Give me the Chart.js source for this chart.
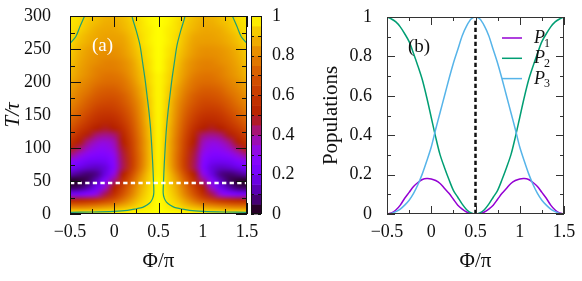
<!DOCTYPE html>
<html>
<head>
<meta charset="utf-8">
<script src="https://cdn.jsdelivr.net/npm/chart.js@4.4.1/dist/chart.umd.min.js"></script>
<style>
html, body { margin: 0; padding: 0; background: #fff; }
#wrap { position: relative; width: 582px; height: 281px; }
#chartA { position: absolute; left: 0; top: 0; }
#chartB { position: absolute; left: 300px; top: 0; }
</style>
</head>
<body>
<div id="wrap">
  <canvas id="chartA" width="300" height="281"></canvas>
  <canvas id="chartB" width="282" height="281"></canvas>
</div>
<script>
// ---------- panel (a): map over phase and time ----------
const phiGrid = [-0.5,-0.4,-0.3,-0.2,-0.1,0,0.1,0.2,0.3,0.4,0.5,0.6,0.7,0.8,0.9,1,1.1,1.2,1.3,1.4,1.5];
const tGrid = [0,10,20,30,40,50,60,70,80,90,100,110,120,130,140,150,160,170,180,190,200,210,220,230,240,250,260,270,280,290,300];
// one row per tGrid entry, one value per phiGrid entry
const heatRows = [
  [1,1,1,1,1,1,1,1,1,1,1,1,1,1,1,1,1,1,1,1,1],
  [0.8,0.8,0.81,0.83,0.85,0.87,0.9,0.93,0.96,0.98,1,0.98,0.96,0.93,0.9,0.87,0.85,0.83,0.81,0.8,0.8],
  [0.55,0.55,0.57,0.6,0.65,0.7,0.78,0.86,0.93,0.97,1,0.97,0.93,0.86,0.78,0.7,0.65,0.6,0.57,0.55,0.55],
  [0.22,0.23,0.27,0.33,0.45,0.57,0.69,0.8,0.9,0.96,1,0.96,0.9,0.8,0.69,0.57,0.45,0.33,0.27,0.23,0.22],
  [0.06,0.07,0.12,0.2,0.35,0.5,0.64,0.77,0.88,0.95,1,0.95,0.88,0.77,0.64,0.5,0.35,0.2,0.12,0.07,0.06],
  [0.02,0.03,0.06,0.14,0.28,0.42,0.58,0.73,0.86,0.94,1,0.94,0.86,0.73,0.58,0.42,0.28,0.14,0.06,0.03,0.02],
  [0.12,0.09,0.07,0.09,0.18,0.33,0.5,0.67,0.82,0.93,0.99,0.93,0.82,0.67,0.5,0.33,0.18,0.09,0.07,0.09,0.12],
  [0.22,0.18,0.15,0.14,0.17,0.27,0.45,0.62,0.78,0.91,0.99,0.91,0.78,0.62,0.45,0.27,0.17,0.14,0.15,0.18,0.22],
  [0.3,0.25,0.21,0.2,0.21,0.28,0.45,0.61,0.77,0.9,0.99,0.9,0.77,0.61,0.45,0.28,0.21,0.2,0.21,0.25,0.3],
  [0.42,0.35,0.29,0.26,0.26,0.31,0.46,0.62,0.77,0.9,0.99,0.9,0.77,0.62,0.46,0.31,0.26,0.26,0.29,0.35,0.42],
  [0.52,0.44,0.36,0.31,0.3,0.35,0.48,0.63,0.78,0.9,0.99,0.9,0.78,0.63,0.48,0.35,0.3,0.31,0.36,0.44,0.52],
  [0.58,0.5,0.42,0.36,0.34,0.38,0.5,0.64,0.78,0.9,0.99,0.9,0.78,0.64,0.5,0.38,0.34,0.36,0.42,0.5,0.58],
  [0.64,0.56,0.49,0.43,0.41,0.43,0.53,0.66,0.79,0.91,0.99,0.91,0.79,0.66,0.53,0.43,0.41,0.43,0.49,0.56,0.64],
  [0.69,0.62,0.56,0.5,0.48,0.5,0.57,0.68,0.8,0.91,0.99,0.91,0.8,0.68,0.57,0.5,0.48,0.5,0.56,0.62,0.69],
  [0.73,0.67,0.61,0.56,0.54,0.55,0.61,0.7,0.81,0.92,0.99,0.92,0.81,0.7,0.61,0.55,0.54,0.56,0.61,0.67,0.73],
  [0.76,0.71,0.65,0.6,0.58,0.59,0.64,0.72,0.82,0.92,0.99,0.92,0.82,0.72,0.64,0.59,0.58,0.6,0.65,0.71,0.76],
  [0.79,0.74,0.69,0.64,0.62,0.63,0.67,0.74,0.83,0.93,0.99,0.93,0.83,0.74,0.67,0.63,0.62,0.64,0.69,0.74,0.79],
  [0.81,0.77,0.72,0.68,0.66,0.66,0.7,0.76,0.84,0.93,0.99,0.93,0.84,0.76,0.7,0.66,0.66,0.68,0.72,0.77,0.81],
  [0.83,0.79,0.75,0.71,0.69,0.69,0.72,0.78,0.86,0.94,0.99,0.94,0.86,0.78,0.72,0.69,0.69,0.71,0.75,0.79,0.83],
  [0.85,0.81,0.78,0.74,0.72,0.72,0.75,0.8,0.87,0.94,0.99,0.94,0.87,0.8,0.75,0.72,0.72,0.74,0.78,0.81,0.85],
  [0.87,0.83,0.8,0.77,0.75,0.75,0.77,0.82,0.89,0.95,0.99,0.95,0.89,0.82,0.77,0.75,0.75,0.77,0.8,0.83,0.87],
  [0.89,0.85,0.82,0.79,0.77,0.77,0.79,0.84,0.9,0.95,0.99,0.95,0.9,0.84,0.79,0.77,0.77,0.79,0.82,0.85,0.89],
  [0.9,0.86,0.83,0.8,0.79,0.79,0.81,0.85,0.91,0.96,1,0.96,0.91,0.85,0.81,0.79,0.79,0.8,0.83,0.86,0.9],
  [0.91,0.87,0.84,0.82,0.8,0.8,0.82,0.86,0.92,0.96,1,0.96,0.92,0.86,0.82,0.8,0.8,0.82,0.84,0.87,0.91],
  [0.92,0.88,0.85,0.83,0.82,0.82,0.84,0.88,0.93,0.97,1,0.97,0.93,0.88,0.84,0.82,0.82,0.83,0.85,0.88,0.92],
  [0.93,0.89,0.86,0.84,0.83,0.83,0.85,0.89,0.94,0.97,1,0.97,0.94,0.89,0.85,0.83,0.83,0.84,0.86,0.89,0.93],
  [0.95,0.91,0.88,0.86,0.85,0.85,0.86,0.9,0.95,0.98,1,0.98,0.95,0.9,0.86,0.85,0.85,0.86,0.88,0.91,0.95],
  [0.955,0.92,0.89,0.87,0.86,0.86,0.87,0.91,0.95,0.98,1,0.98,0.95,0.91,0.87,0.86,0.86,0.87,0.89,0.92,0.955],
  [0.96,0.94,0.91,0.88,0.87,0.87,0.89,0.92,0.96,0.98,1,0.98,0.96,0.92,0.89,0.87,0.87,0.88,0.91,0.94,0.96],
  [0.965,0.95,0.92,0.9,0.88,0.88,0.9,0.93,0.96,0.99,1,0.99,0.96,0.93,0.9,0.88,0.88,0.9,0.92,0.95,0.965],
  [0.97,0.955,0.93,0.91,0.89,0.89,0.91,0.94,0.97,0.99,1,0.99,0.97,0.94,0.91,0.89,0.89,0.91,0.93,0.955,0.97]
];

// contour lines (green)
const innerT = [2.6,3,4,5.5,8,10,13.5,18,24,32,50,75,104,130,154,180,205,230,255.5,277,297,300];
const innerLeftPhi = [-0.5,-0.25,0,0.15,0.25,0.32,0.37,0.41,0.435,0.447,0.443,0.435,0.423,0.41,0.393,0.37,0.347,0.32,0.291,0.25,0.205,0.202];
const innerRightPhi = [1.5,1.25,1,0.85,0.75,0.68,0.63,0.59,0.565,0.553,0.557,0.565,0.577,0.59,0.607,0.63,0.653,0.68,0.709,0.75,0.795,0.798];
const cornerT = [258.5,268.6,284,300];
const cornerLeftPhi = [-0.5,-0.435,-0.387,-0.335];
const cornerRightPhi = [1.5,1.435,1.387,1.335];
const cutT = 47;   // white dashed line

const phiTicks = [-0.5,0,0.5,1,1.5];
const phiMinor = [-0.25,0.25,0.75,1.25];
const tTicks = [0,50,100,150,200,250,300];
const tMinor = [25,75,125,175,225,275];
const cbTicks = [0,0.2,0.4,0.6,0.8,1];
const cbMinor = [0.1,0.3,0.5,0.7,0.9];
const cbLevels = [0,0.05,0.1,0.15,0.2,0.25,0.3,0.35,0.4,0.45,0.5,0.55,0.6,0.65,0.7,0.75,0.8,0.85,0.9,0.95,1];

// ---------- panel (b): populations at the cut ----------
const phiLine = [-0.5,-0.45,-0.4,-0.35,-0.3,-0.25,-0.2,-0.15,-0.1,-0.05,0,0.05,0.1,0.15,0.2,0.25,0.3,0.35,0.4,0.45,0.5,
                 0.55,0.6,0.65,0.7,0.75,0.8,0.85,0.9,0.95,1,1.05,1.1,1.15,1.2,1.25,1.3,1.35,1.4,1.45,1.5];
const pop1 = [0,0.005,0.02,0.045,0.08,0.11,0.14,0.16,0.175,0.18,0.178,0.17,0.155,0.13,0.105,0.075,0.045,0.025,0.01,0.002,0,
              0.002,0.01,0.025,0.045,0.075,0.105,0.13,0.155,0.17,0.178,0.18,0.175,0.16,0.14,0.11,0.08,0.045,0.02,0.005,0];
const pop2 = [1,0.99,0.975,0.95,0.915,0.875,0.815,0.75,0.68,0.59,0.49,0.39,0.3,0.235,0.175,0.12,0.085,0.05,0.022,0.006,0,
              0.006,0.022,0.05,0.085,0.12,0.175,0.235,0.3,0.39,0.49,0.59,0.68,0.75,0.815,0.875,0.915,0.95,0.975,0.99,1];
const pop3 = [0,0.003,0.012,0.025,0.045,0.07,0.105,0.15,0.205,0.27,0.34,0.43,0.515,0.6,0.685,0.765,0.835,0.905,0.955,0.99,1,
              0.99,0.955,0.905,0.835,0.765,0.685,0.6,0.515,0.43,0.34,0.27,0.205,0.15,0.105,0.07,0.045,0.025,0.012,0.003,0];
const popLabels = ['P1','P2','P3'];
const popColors = ['#9400d3','#009e73','#56b4e9'];
const markPhi = 0.5;
const popTicks = [0,0.2,0.4,0.6,0.8,1];
const popMinor = [0.1,0.3,0.5,0.7,0.9];

Chart.defaults.font.family = '"Liberation Serif", serif';
Chart.defaults.color = '#111';

const fmt = v => String(v).replace('-', '\u2212');
const xy = (xs, ys) => xs.map((x, i) => ({x: x, y: ys[i]}));

// gnuplot-like black / blue / red / yellow palette
function pal(v) {
  v = Math.min(1, Math.max(0, v));
  return [Math.sqrt(v), v * v * v, Math.max(0, Math.sin(2 * Math.PI * v))].map(c => Math.round(c * 255));
}

function line(label, data, color, width, dash) {
  return {label: label, data: data, borderColor: color, borderWidth: width, borderDash: dash || [],
          pointRadius: 0, showLine: true, fill: false, tension: 0.3};
}

// fixed axis sizes, and no extra padding from the tick labels
function fixSize(w, h) {
  return s => {
    if (w) s.width = w;
    if (h) s.height = h;
    s.paddingTop = 0; s.paddingBottom = 0; s.paddingLeft = 0; s.paddingRight = 0;
  };
}

// inward ticks on all four sides + frame
function drawFrame(chart, xMaj, xMin, yMaj, yMin, lMaj, lMin, color) {
  const {ctx, chartArea: a, scales} = chart;
  ctx.save();
  ctx.strokeStyle = color;
  ctx.lineWidth = 1;
  ctx.beginPath();
  const xt = (vals, len) => vals.forEach(v => {
    const p = Math.round(scales.x.getPixelForValue(v)) + 0.5;
    ctx.moveTo(p, a.bottom); ctx.lineTo(p, a.bottom - len);
    ctx.moveTo(p, a.top); ctx.lineTo(p, a.top + len);
  });
  const yt = (vals, len) => vals.forEach(v => {
    const p = Math.round(scales.y.getPixelForValue(v)) + 0.5;
    ctx.moveTo(a.left, p); ctx.lineTo(a.left + len, p);
    ctx.moveTo(a.right, p); ctx.lineTo(a.right - len, p);
  });
  xt(xMaj, lMaj); xt(xMin, lMin); yt(yMaj, lMaj); yt(yMin, lMin);
  ctx.stroke();
  ctx.strokeRect(Math.round(a.left) + 0.5, Math.round(a.top) + 0.5, Math.round(a.width) - 1, Math.round(a.height) - 1);
  ctx.restore();
}

const heatPlugin = {
  id: 'heat',
  beforeDatasetsDraw(chart) {
    const {ctx, chartArea: a, scales} = chart;
    const nx = phiGrid.length, ny = tGrid.length;
    const off = document.createElement('canvas');
    off.width = nx; off.height = ny;
    const octx = off.getContext('2d');
    const img = octx.createImageData(nx, ny);
    for (let j = 0; j < ny; j++) {
      for (let i = 0; i < nx; i++) {
        const c = pal(heatRows[j][i]);
        const k = ((ny - 1 - j) * nx + i) * 4;
        img.data[k] = c[0]; img.data[k + 1] = c[1]; img.data[k + 2] = c[2]; img.data[k + 3] = 255;
      }
    }
    octx.putImageData(img, 0, 0);
    const hx = (phiGrid[1] - phiGrid[0]) / 2, hy = (tGrid[1] - tGrid[0]) / 2;
    const x0 = scales.x.getPixelForValue(phiGrid[0] - hx), x1 = scales.x.getPixelForValue(phiGrid[nx - 1] + hx);
    const y0 = scales.y.getPixelForValue(tGrid[ny - 1] + hy), y1 = scales.y.getPixelForValue(tGrid[0] - hy);
    ctx.save();
    ctx.beginPath(); ctx.rect(a.left, a.top, a.width, a.height); ctx.clip();
    ctx.imageSmoothingEnabled = true;
    ctx.imageSmoothingQuality = 'high';
    ctx.drawImage(off, x0, y0, x1 - x0, y1 - y0);
    ctx.restore();
  },
  afterDatasetsDraw(chart) {
    const {ctx, chartArea: a, scales} = chart;
    drawFrame(chart, phiTicks, phiMinor, tTicks, tMinor, 11, 5, '#111');
    // colour box
    const cb = scales.cb;
    const bx = a.right + 4, bw = 10;
    ctx.save();
    for (let i = 0; i < cbLevels.length - 1; i++) {
      const c = pal((cbLevels[i] + cbLevels[i + 1]) / 2);
      const ya = cb.getPixelForValue(cbLevels[i + 1]), yb = cb.getPixelForValue(cbLevels[i]);
      ctx.fillStyle = 'rgb(' + c.join(',') + ')';
      ctx.fillRect(bx, ya, bw, yb - ya + 0.5);
    }
    ctx.strokeStyle = '#111';
    ctx.lineWidth = 1;
    ctx.beginPath();
    cbTicks.concat(cbMinor).forEach(v => {
      const p = Math.round(cb.getPixelForValue(v)) + 0.5;
      ctx.moveTo(bx, p); ctx.lineTo(bx + 3, p);
      ctx.moveTo(bx + bw, p); ctx.lineTo(bx + bw - 3, p);
    });
    ctx.stroke();
    ctx.strokeRect(bx + 0.5, Math.round(a.top) + 0.5, bw, Math.round(a.height) - 1);
    // panel tag
    ctx.fillStyle = '#fff';
    ctx.font = '19px "Liberation Serif"';
    ctx.textBaseline = 'middle';
    ctx.fillText('(a)', a.left + 22, a.top + 30);
    ctx.restore();
  }
};

const popPlugin = {
  id: 'pop',
  afterDatasetsDraw(chart) {
    const {ctx, chartArea: a} = chart;
    drawFrame(chart, phiTicks, phiMinor, popTicks, popMinor, 8, 4, '#333');
    ctx.save();
    // legend
    for (let i = 0; i < popLabels.length; i++) {
      const ds = chart.data.datasets[i];
      const y = a.top + 21 + i * 20.3;
      ctx.strokeStyle = ds.borderColor;
      ctx.lineWidth = 1.5;
      ctx.beginPath(); ctx.moveTo(a.right - 62, y); ctx.lineTo(a.right - 42, y); ctx.stroke();
      ctx.fillStyle = '#111';
      ctx.textBaseline = 'alphabetic';
      ctx.font = 'italic 18px "Liberation Serif"';
      ctx.fillText(ds.label[0], a.right - 30, y + 5);
      const w = ctx.measureText(ds.label[0]).width;
      ctx.font = '12px "Liberation Serif"';
      ctx.fillText(ds.label.slice(1), a.right - 31 + w, y + 8.5);
    }
    ctx.fillStyle = '#111';
    ctx.font = '19px "Liberation Serif"';
    ctx.textBaseline = 'middle';
    ctx.fillText('(b)', a.left + 21, a.top + 30);
    ctx.restore();
  }
};

const noGrid = {display: false, drawTicks: false};

new Chart(document.getElementById('chartA'), {
  type: 'scatter',
  data: {
    datasets: [
      Object.assign(line('cut', xy([phiGrid[0], phiGrid[phiGrid.length - 1]], [cutT, cutT]), '#ffffff', 2.5, [4.3, 3.3]), {order: 0, tension: 0}),
      Object.assign(line('inner left', xy(innerLeftPhi, innerT), '#1c9e78', 1.2), {order: 1}),
      Object.assign(line('inner right', xy(innerRightPhi, innerT), '#1c9e78', 1.2), {order: 1}),
      Object.assign(line('corner left', xy(cornerLeftPhi, cornerT), '#1c9e78', 1.2), {order: 1}),
      Object.assign(line('corner right', xy(cornerRightPhi, cornerT), '#1c9e78', 1.2), {order: 1})
    ]
  },
  options: {
    responsive: false,
    animation: false,
    layout: {padding: {top: 16, left: 0, right: 0, bottom: 0}},
    plugins: {legend: {display: false}, tooltip: {enabled: false}},
    scales: {
      x: {
        type: 'linear', min: -0.5, max: 1.5, grid: noGrid, border: {display: false},
        afterBuildTicks: s => { s.ticks = phiTicks.map(v => ({value: v})); },
        afterFit: fixSize(0, 67),
        ticks: {padding: 7, font: {size: 18}, maxRotation: 0, autoSkip: false, callback: v => fmt(v)},
        title: {display: true, text: 'Φ/π', font: {size: 21}, padding: {top: 0, bottom: 7}}
      },
      y: {
        type: 'linear', min: 0, max: 300, grid: noGrid, border: {display: false},
        afterBuildTicks: s => { s.ticks = tTicks.map(v => ({value: v})); },
        afterFit: fixSize(70, 0),
        ticks: {padding: 19, font: {size: 18}, callback: v => fmt(v)},
        title: {display: true, text: 'T/τ', font: {size: 21, style: 'italic'}, padding: {top: 1, bottom: 0}}
      },
      cb: {
        type: 'linear', position: 'right', min: 0, max: 1, grid: noGrid, border: {display: false},
        afterBuildTicks: s => { s.ticks = cbTicks.map(v => ({value: v})); },
        afterFit: fixSize(53, 0),
        ticks: {padding: 25, font: {size: 18}, callback: v => fmt(v)}
      }
    }
  },
  plugins: [heatPlugin]
});

new Chart(document.getElementById('chartB'), {
  type: 'scatter',
  data: {
    datasets: [
      Object.assign(line(popLabels[0], xy(phiLine, pop1), popColors[0], 1.5), {order: 3}),
      Object.assign(line(popLabels[1], xy(phiLine, pop2), popColors[1], 1.5), {order: 2}),
      Object.assign(line(popLabels[2], xy(phiLine, pop3), popColors[2], 1.5), {order: 1}),
      Object.assign(line('mark', xy([markPhi, markPhi], [0, 1]), '#111', 2.5, [4.3, 2.7]), {order: 0, tension: 0})
    ]
  },
  options: {
    responsive: false,
    animation: false,
    layout: {padding: {top: 17, left: 0, right: 18, bottom: 0}},
    plugins: {legend: {display: false}, tooltip: {enabled: false}},
    scales: {
      x: {
        type: 'linear', min: -0.5, max: 1.5, grid: noGrid, border: {display: false},
        afterBuildTicks: s => { s.ticks = phiTicks.map(v => ({value: v})); },
        afterFit: fixSize(0, 67),
        ticks: {padding: 7, font: {size: 18}, maxRotation: 0, autoSkip: false, callback: v => fmt(v)},
        title: {display: true, text: 'Φ/π', font: {size: 21}, padding: {top: 0, bottom: 7}}
      },
      y: {
        type: 'linear', min: 0, max: 1, grid: noGrid, border: {display: false},
        afterBuildTicks: s => { s.ticks = popTicks.map(v => ({value: v})); },
        afterFit: fixSize(87, 0),
        ticks: {padding: 15, font: {size: 18}, callback: v => fmt(v)},
        title: {display: true, text: 'Populations', font: {size: 21}, padding: {top: 19, bottom: 0}}
      }
    }
  },
  plugins: [popPlugin]
});
</script>
</body>
</html>
